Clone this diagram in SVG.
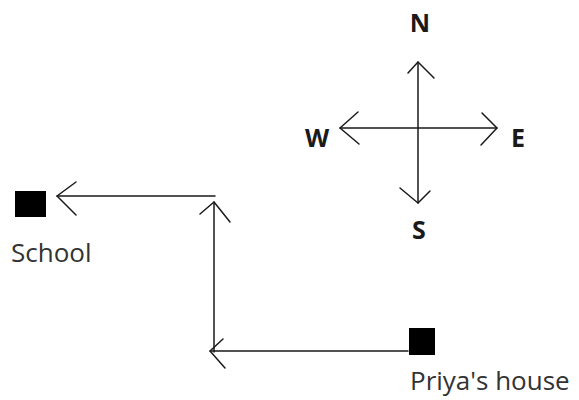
<svg xmlns="http://www.w3.org/2000/svg" width="579" height="400" viewBox="0 0 579 400">
<style>
.ln{stroke:#1a1a1a;stroke-width:1.5;fill:none;stroke-linecap:round;stroke-linejoin:round}
.dir{font-family:"Open Sans","Liberation Sans",sans-serif;font-weight:bold;font-size:25px;fill:#1a1a1a;text-anchor:middle}
.lbl{font-family:"Open Sans","Liberation Sans",sans-serif;font-size:26px;fill:#333}
.box{fill:#000}
</style>
<rect width="579" height="400" fill="#fff"/>
<g id="compass">
<path class="ln" d="M418,62 V203 M340,128 H497"/>
<path class="ln" d="M408,73 L418,62 L434,78"/>
<path class="ln" d="M400,188 L418,203 L430,191"/>
<path class="ln" d="M358,112 L340,128 L359,144"/>
<path class="ln" d="M482,113 L497,128 L481,145"/>
<text class="dir" x="420" y="32">N</text>
<text class="dir" x="419" y="239">S</text>
<text class="dir" x="317" y="147">W</text>
<text class="dir" x="518" y="147">E</text>
</g>
<g id="school">
<rect class="box" x="15" y="191" width="31" height="26"/>
<text class="lbl" x="11" y="262">School</text>
</g>
<g id="priyas-house">
<rect class="box" x="409" y="328" width="26" height="27"/>
<text class="lbl" x="410" y="390">Priya's house</text>
</g>
<g id="connectors">
<path class="ln" d="M408,351 H210"/>
<path class="ln" d="M223,339 L210,351 L225,368"/>
<path class="ln" d="M214,352 V202"/>
<path class="ln" d="M200,214 L214,202 L230,222"/>
<path class="ln" d="M215,196 H57"/>
<path class="ln" d="M76,182 L57,196 L76,215"/>
</g>
</svg>
